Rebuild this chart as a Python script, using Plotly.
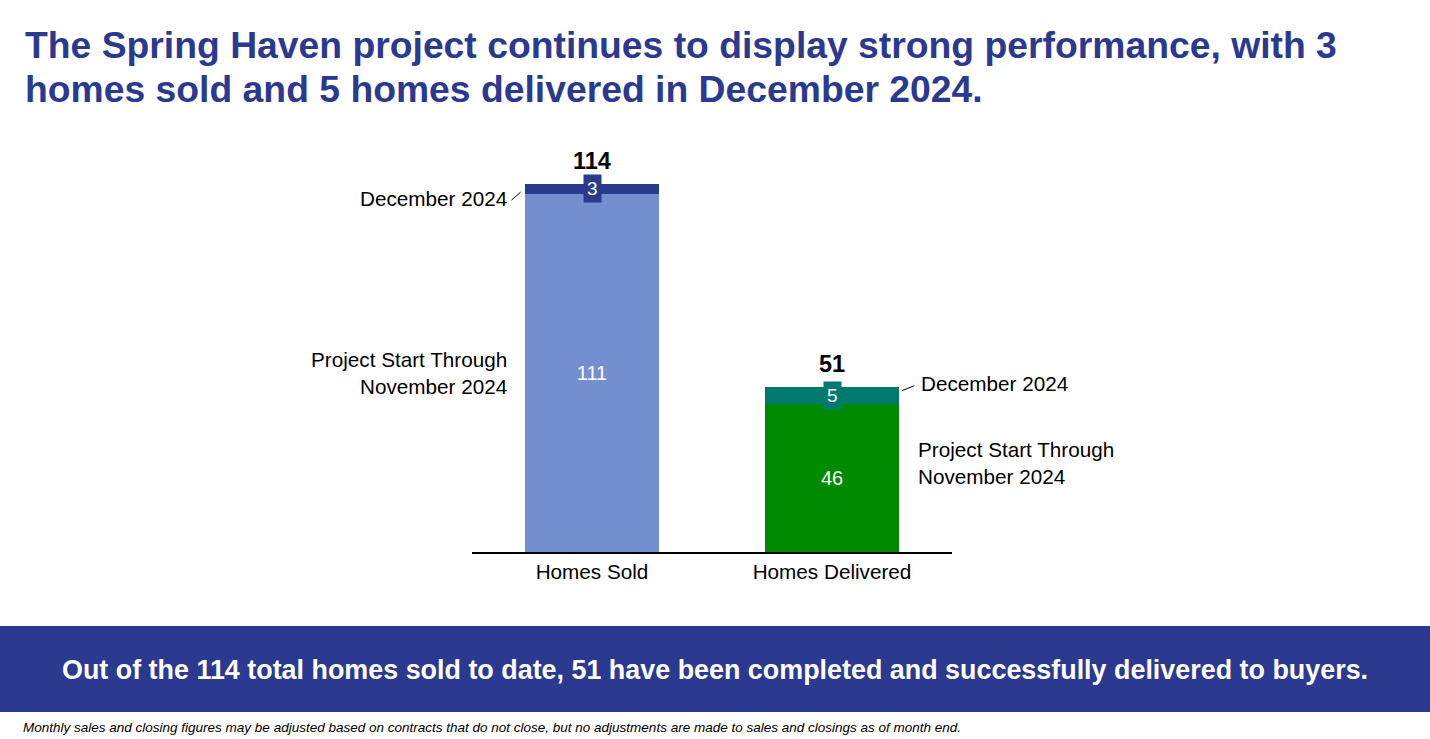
import plotly.graph_objects as go

W, H = 1430, 739

categories = ["Homes Sold", "Homes Delivered"]
through_nov = [111, 46]
december = [3, 5]
totals = [a + b for a, b in zip(through_nov, december)]

base_colors = ["#748FCF", "#008A00"]
dec_colors = ["#2A3A8C", "#007A6E"]
NAVY = "#2B3990"
FONT = "Arial, Liberation Sans, sans-serif"
BAR_W = 0.555
LBL = 20.7


def px(x, y):
    # pixel position -> paper coords
    return x / W, 1 - y / H


fig = go.Figure()

fig.add_trace(go.Bar(
    x=categories, y=through_nov, width=BAR_W,
    marker=dict(color=base_colors, line=dict(width=0)),
    text=[str(v) for v in through_nov], textposition="inside",
    insidetextanchor="middle",
    textfont=dict(color="white", size=20, family=FONT),
    hoverinfo="skip", showlegend=False,
))
fig.add_trace(go.Bar(
    x=categories, y=december, width=BAR_W,
    marker=dict(color=dec_colors, line=dict(width=0)),
    hoverinfo="skip", showlegend=False,
))

annotations = []

# December values in little boxes + totals on top
for i, (b, d) in enumerate(zip(through_nov, december)):
    annotations.append(dict(
        x=i, y=b + d / 2, xref="x", yref="y", text=str(d), showarrow=False,
        font=dict(color="white", size=19, family=FONT),
        bgcolor=dec_colors[i], borderpad=3,
    ))
    annotations.append(dict(
        x=i, y=totals[i], xref="x", yref="y", text="<b>%d</b>" % totals[i],
        showarrow=False, yanchor="bottom", yshift=8,
        font=dict(color="black", size=23.5, family=FONT),
    ))

# side labels
annotations += [
    dict(x=-BAR_W / 2, y=through_nov[0] + december[0] / 2, xref="x", yref="y",
         text="December 2024", showarrow=False, xanchor="right", xshift=-16,
         yshift=-10, font=dict(size=LBL, color="black", family=FONT)),
    dict(x=-BAR_W / 2, y=through_nov[0] / 2, xref="x", yref="y",
         text="Project Start Through<br>November 2024", showarrow=False,
         xanchor="right", align="right", xshift=-16, yshift=0,
         font=dict(size=LBL, color="black", family=FONT)),
    dict(x=1 + BAR_W / 2, y=through_nov[1] + december[1] / 2, xref="x", yref="y",
         text="December 2024", showarrow=False, xanchor="left", xshift=20,
         yshift=12, font=dict(size=LBL, color="black", family=FONT)),
    dict(x=1 + BAR_W / 2, y=through_nov[1] / 2, xref="x", yref="y",
         text="Project Start Through<br>November 2024", showarrow=False,
         xanchor="left", align="left", xshift=17, yshift=15,
         font=dict(size=LBL, color="black", family=FONT)),
]

title_lines = [
    "The Spring Haven project continues to display strong performance, with 3",
    "homes sold and 5 homes delivered in December 2024.",
]
for line, y in zip(title_lines, [45, 89]):
    tx, ty = px(23, y)
    annotations.append(dict(
        x=tx, y=ty, xref="paper", yref="paper", xanchor="left", yanchor="middle",
        showarrow=False, text="<b>%s</b>" % line,
        font=dict(size=37.3, color=NAVY, family=FONT),
    ))

bx, by = px(W / 2, 670)
annotations.append(dict(
    x=bx, y=by, xref="paper", yref="paper", showarrow=False, yanchor="middle",
    text="<b>Out of the 114 total homes sold to date, 51 have been completed and "
         "successfully delivered to buyers.</b>",
    font=dict(size=26.9, color="white", family=FONT),
))

fx, fy = px(21, 727)
annotations.append(dict(
    x=fx, y=fy, xref="paper", yref="paper", xanchor="left", yanchor="middle",
    showarrow=False,
    text="<i>Monthly sales and closing figures may be adjusted based on contracts that "
         "do not close, but no adjustments are made to sales and closings as of month end.</i>",
    font=dict(size=13.5, color="black", family=FONT),
))

_, y_top = px(0, 626)
_, y_bot = px(W, 712)
shapes = [
    dict(type="rect", xref="paper", yref="paper", x0=0, x1=1, y0=y_bot, y1=y_top,
         fillcolor=NAVY, line=dict(width=0), layer="below"),
    # leader lines
    dict(type="line", xref="x", yref="y",
         x0=-BAR_W / 2 - 0.058, y0=through_nov[0] - 2,
         x1=-BAR_W / 2 - 0.02, y1=through_nov[0] + 0.5,
         line=dict(color="black", width=1)),
    dict(type="line", xref="x", yref="y",
         x0=1 + BAR_W / 2 + 0.015, y0=totals[1] - 1,
         x1=1 + BAR_W / 2 + 0.065, y1=totals[1] + 0.5,
         line=dict(color="black", width=1)),
]

fig.update_layout(
    barmode="stack",
    width=W, height=H,
    margin=dict(l=0, r=0, t=0, b=0),
    plot_bgcolor="white", paper_bgcolor="white",
    font=dict(family=FONT),
    annotations=annotations,
    shapes=shapes,
    xaxis=dict(
        domain=[472 / W, 952 / W], range=[-0.5, 1.5],
        showline=True, linecolor="black", linewidth=1.5,
        ticks="", tickfont=dict(size=LBL, color="black", family=FONT),
        showgrid=False, zeroline=False, fixedrange=True,
    ),
    yaxis=dict(
        domain=[1 - 552 / H, 1 - 140 / H], range=[0, (552 - 140) / 3.228],
        visible=False, showgrid=False, zeroline=False, fixedrange=True,
    ),
)

fig.write_html(
    "out.html",
    config={"displayModeBar": False},
    post_script="document.body.style.margin='0';document.body.style.overflow='hidden';",
)
